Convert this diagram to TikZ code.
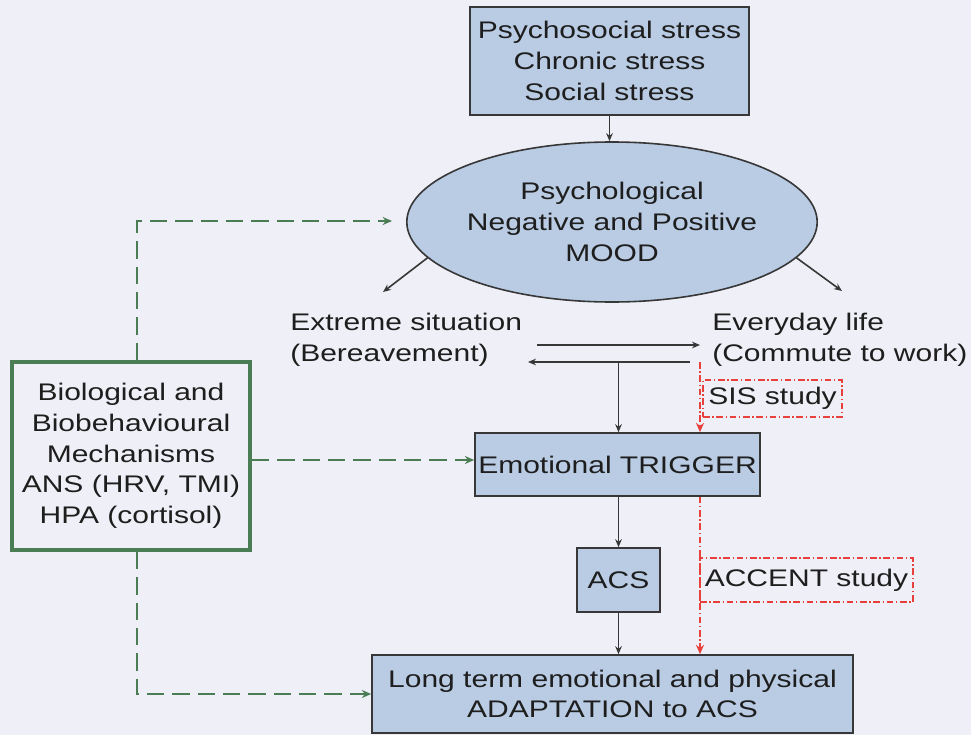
\documentclass[tikz,border=0pt]{standalone}
\usepackage{fontspec}
\setmainfont[FakeStretch=1.25]{Liberation Sans}
\usetikzlibrary{shapes.geometric,arrows.meta}
\definecolor{bgc}{RGB}{239,239,247}
\definecolor{boxfill}{RGB}{185,204,228}
\definecolor{boxline}{RGB}{55,55,55}
\definecolor{grn}{RGB}{74,125,84}
\definecolor{redd}{RGB}{232,64,58}
\definecolor{txt}{RGB}{30,30,30}
\tikzset{
  every node/.style={font=\fontsize{18}{23}\selectfont, text=txt},
  bluebox/.style={draw=boxline, line width=1.2pt, fill=boxfill, align=center, inner sep=0pt},
  studybox/.style={draw=redd, line width=1.2pt, dash pattern=on 5pt off 2pt on 1pt off 2pt, align=center, inner sep=0pt},
  arr/.style={draw=boxline, line width=1.2pt, -{Stealth[length=6pt,width=5pt]}},
  garr/.style={draw=grn, line width=1.6pt, dash pattern=on 13pt off 6pt, -{Stealth[length=7pt,width=6pt]}},
  rarr/.style={draw=redd, line width=1.4pt, dash pattern=on 5pt off 2pt on 1pt off 2pt, -{Stealth[length=7pt,width=6pt]}},
}
\begin{document}
\begin{tikzpicture}[x=0.75pt, y=-0.75pt]
\fill[bgc] (0,0) rectangle (971,735);
\useasboundingbox (0,0) rectangle (971,735);

\node[bluebox, minimum width=209.25pt, minimum height=81pt] (top) at (609.5,61)
  {Psychosocial stress\\Chronic stress\\Social stress};
\node[bluebox, ellipse, minimum width=300pt, minimum height=120pt] (mood) at (612,222)
  {Psychological\\Negative and Positive\\MOOD};
\node[anchor=west, align=left, inner sep=0pt] (extreme) at (290,340)
  {Extreme situation\\(Bereavement)};
\node[anchor=west, align=left, inner sep=0pt] (everyday) at (712,340)
  {Everyday life\\(Commute to work)};
\node[studybox, minimum width=104.25pt, minimum height=27.75pt] (sis) at (772.5,398.5) {SIS study};
\node[bluebox, minimum width=213.75pt, minimum height=47.25pt] (trigger) at (617.5,464.5) {Emotional TRIGGER};
\node[bluebox, minimum width=62.25pt, minimum height=48pt] (acs) at (618.5,580) {ACS};
\node[studybox, minimum width=159.75pt, minimum height=33pt] (accent) at (806.5,580) {ACCENT study};
\node[bluebox, minimum width=360.75pt, minimum height=58.5pt] (long) at (612.5,694)
  {Long term emotional and physical\\ADAPTATION to ACS};
\node[draw=grn, line width=3pt, fill=bgc, minimum width=178.5pt, minimum height=141pt, align=center, inner sep=0pt] (bio) at (131,456)
  {Biological and\\Biobehavioural\\Mechanisms\\ANS (HRV, TMI)\\HPA (cortisol)};

% coordinates
\coordinate (le) at (383,292);
\coordinate (re) at (842,291);
\coordinate (ua1) at (537,345);
\coordinate (ua2) at (700,345);
\coordinate (la1) at (690,362);
\coordinate (la2) at (528,362);
\coordinate (lt) at (618.5,362);
\coordinate (r1) at (700,362);
\coordinate (g1) at (137,221);
\coordinate (g2) at (392,221);

% black connectors
\draw[arr] (top.south) -- (top.south |- mood.north);
\draw[arr] (mood.191) -- (le);
\draw[arr] (mood.349) -- (re);
\draw[arr] (ua1) -- (ua2);
\draw[arr] (la1) -- (la2);
\draw[arr] (lt) -- (lt |- trigger.north);
\draw[arr] (acs.north |- trigger.south) -- (acs.north);
\draw[arr] (acs.south) -- (acs.south |- long.north);

% red connectors
\draw[rarr] (r1) -- (r1 |- trigger.north);
\draw[rarr] (r1 |- trigger.south) -- (r1 |- long.north);

% green connectors
\draw[garr] (g1 |- bio.north) -- (g1) -- (g2);
\draw[garr] (bio.east |- 0,460) -- (trigger.west |- 0,460);
\draw[garr] (g1 |- bio.south) -- (g1 |- long.west) -- (long.west);
\end{tikzpicture}
\end{document}
